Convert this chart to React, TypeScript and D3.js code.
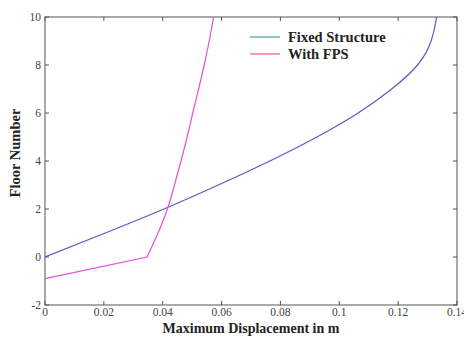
import * as d3 from 'd3';
import { useEffect, useRef } from 'react';

// floor levels and maximum displacement (m)
const fixedFloors = [0, 1, 2, 3, 4, 5, 6, 7, 8, 9, 10];
const fixedDisp = [0, 0.0205, 0.0404, 0.0589, 0.0764, 0.0924, 0.1064, 0.1178, 0.1266, 0.1312, 0.1331];

const fpsFloors = [-0.9, 0, 1, 2, 3, 4, 5, 6, 7, 8, 9, 10];
const fpsDisp = [0, 0.0347, 0.0384, 0.0416, 0.044, 0.0462, 0.0483, 0.0502, 0.0522, 0.0541, 0.0558, 0.0573];

const xTicks = [0, 0.02, 0.04, 0.06, 0.08, 0.1, 0.12, 0.14];
const yTicks = [-2, 0, 2, 4, 6, 8, 10];

const seriesNames = ['Fixed Structure', 'With FPS'];

const W = 464;
const H = 338;

export default function App() {
  const ref = useRef<SVGSVGElement>(null);

  useEffect(() => {
    if (!ref.current) return;
    const svg = d3.select(ref.current);
    svg.selectAll('*').remove();

    const margin = { top: 17, right: 7, bottom: 33, left: 45 };
    const w = W - margin.left - margin.right;
    const h = H - margin.top - margin.bottom;

    const x = d3.scaleLinear().domain([0, 0.14]).range([0, w]);
    const y = d3.scaleLinear().domain([-2, 10]).range([h, 0]);

    const g = svg.append('g').attr('transform', `translate(${margin.left},${margin.top})`);
    const font = "'Liberation Serif', 'Times New Roman', serif";
    const axisColor = '#555';

    // box
    g.append('rect')
      .attr('width', w).attr('height', h)
      .attr('fill', 'none').attr('stroke', axisColor).attr('stroke-width', 1);

    // ticks (inward, mirrored)
    const tl = 4;
    xTicks.forEach(t => {
      g.append('line').attr('x1', x(t)).attr('x2', x(t)).attr('y1', h).attr('y2', h - tl).attr('stroke', axisColor);
      g.append('line').attr('x1', x(t)).attr('x2', x(t)).attr('y1', 0).attr('y2', tl).attr('stroke', axisColor);
      g.append('text')
        .attr('x', x(t)).attr('y', h + 11)
        .attr('text-anchor', 'middle')
        .style('font-family', font).attr('font-size', 11.5).attr('fill', '#444')
        .text(t === 0 ? '0' : String(t));
    });
    yTicks.forEach(t => {
      g.append('line').attr('x1', 0).attr('x2', tl).attr('y1', y(t)).attr('y2', y(t)).attr('stroke', axisColor);
      g.append('line').attr('x1', w).attr('x2', w - tl).attr('y1', y(t)).attr('y2', y(t)).attr('stroke', axisColor);
      g.append('text')
        .attr('x', -4).attr('y', y(t) + 4)
        .attr('text-anchor', 'end')
        .style('font-family', font).attr('font-size', 11.5).attr('fill', '#444')
        .text(String(t));
    });

    const line = d3.line<[number, number]>()
      .x(d => x(d[0]))
      .y(d => y(d[1]))
      .curve(d3.curveNatural);

    const fixedData = fixedFloors.map((f, i) => [fixedDisp[i], f] as [number, number]);
    const fpsData = fpsFloors.map((f, i) => [fpsDisp[i], f] as [number, number]);

    const clip = svg.append('defs').append('clipPath').attr('id', 'plotClip');
    clip.append('rect').attr('width', w).attr('height', h);

    g.append('path')
      .datum(fixedData)
      .attr('clip-path', 'url(#plotClip)')
      .attr('fill', 'none').attr('stroke', '#5a5ac8').attr('stroke-width', 1.2)
      .attr('d', line);

    // straight base segment, then the smooth upper part
    const straight = d3.line<[number, number]>().x(d => x(d[0])).y(d => y(d[1]));
    g.append('path')
      .attr('clip-path', 'url(#plotClip)')
      .attr('fill', 'none').attr('stroke', '#e050e0').attr('stroke-width', 1.2)
      .attr('d', (straight(fpsData.slice(0, 2)) || '') + (line(fpsData.slice(1)) || '').replace(/^M/, 'L'));

    // legend
    const legendColors = ['#4a9aa8', '#e05a9a'];
    seriesNames.forEach((name, i) => {
      const ly = 20 + i * 17;
      g.append('line')
        .attr('x1', 205).attr('x2', 235).attr('y1', ly).attr('y2', ly)
        .attr('stroke', legendColors[i]).attr('stroke-width', 1.2);
      g.append('text')
        .attr('x', 243).attr('y', ly + 5)
        .style('font-family', font).attr('font-size', 14.5).attr('font-weight', 'bold').attr('fill', '#222')
        .text(name);
    });

    // axis labels
    svg.append('text')
      .attr('x', margin.left + w / 2).attr('y', 333)
      .attr('text-anchor', 'middle')
      .style('font-family', font).attr('font-size', 14).attr('font-weight', 'bold').attr('fill', '#222')
      .text('Maximum Displacement in m');

    svg.append('text')
      .attr('transform', `translate(20,${margin.top + h / 2 - 8}) rotate(-90)`)
      .attr('text-anchor', 'middle')
      .style('font-family', font).attr('font-size', 14.5).attr('font-weight', 'bold').attr('fill', '#222')
      .text('Floor Number');
  }, []);

  return (
    <svg
      ref={ref}
      width={W}
      height={H}
      style={{ position: 'absolute', left: 0, top: 0, background: '#fff' }}
    />
  );
}
